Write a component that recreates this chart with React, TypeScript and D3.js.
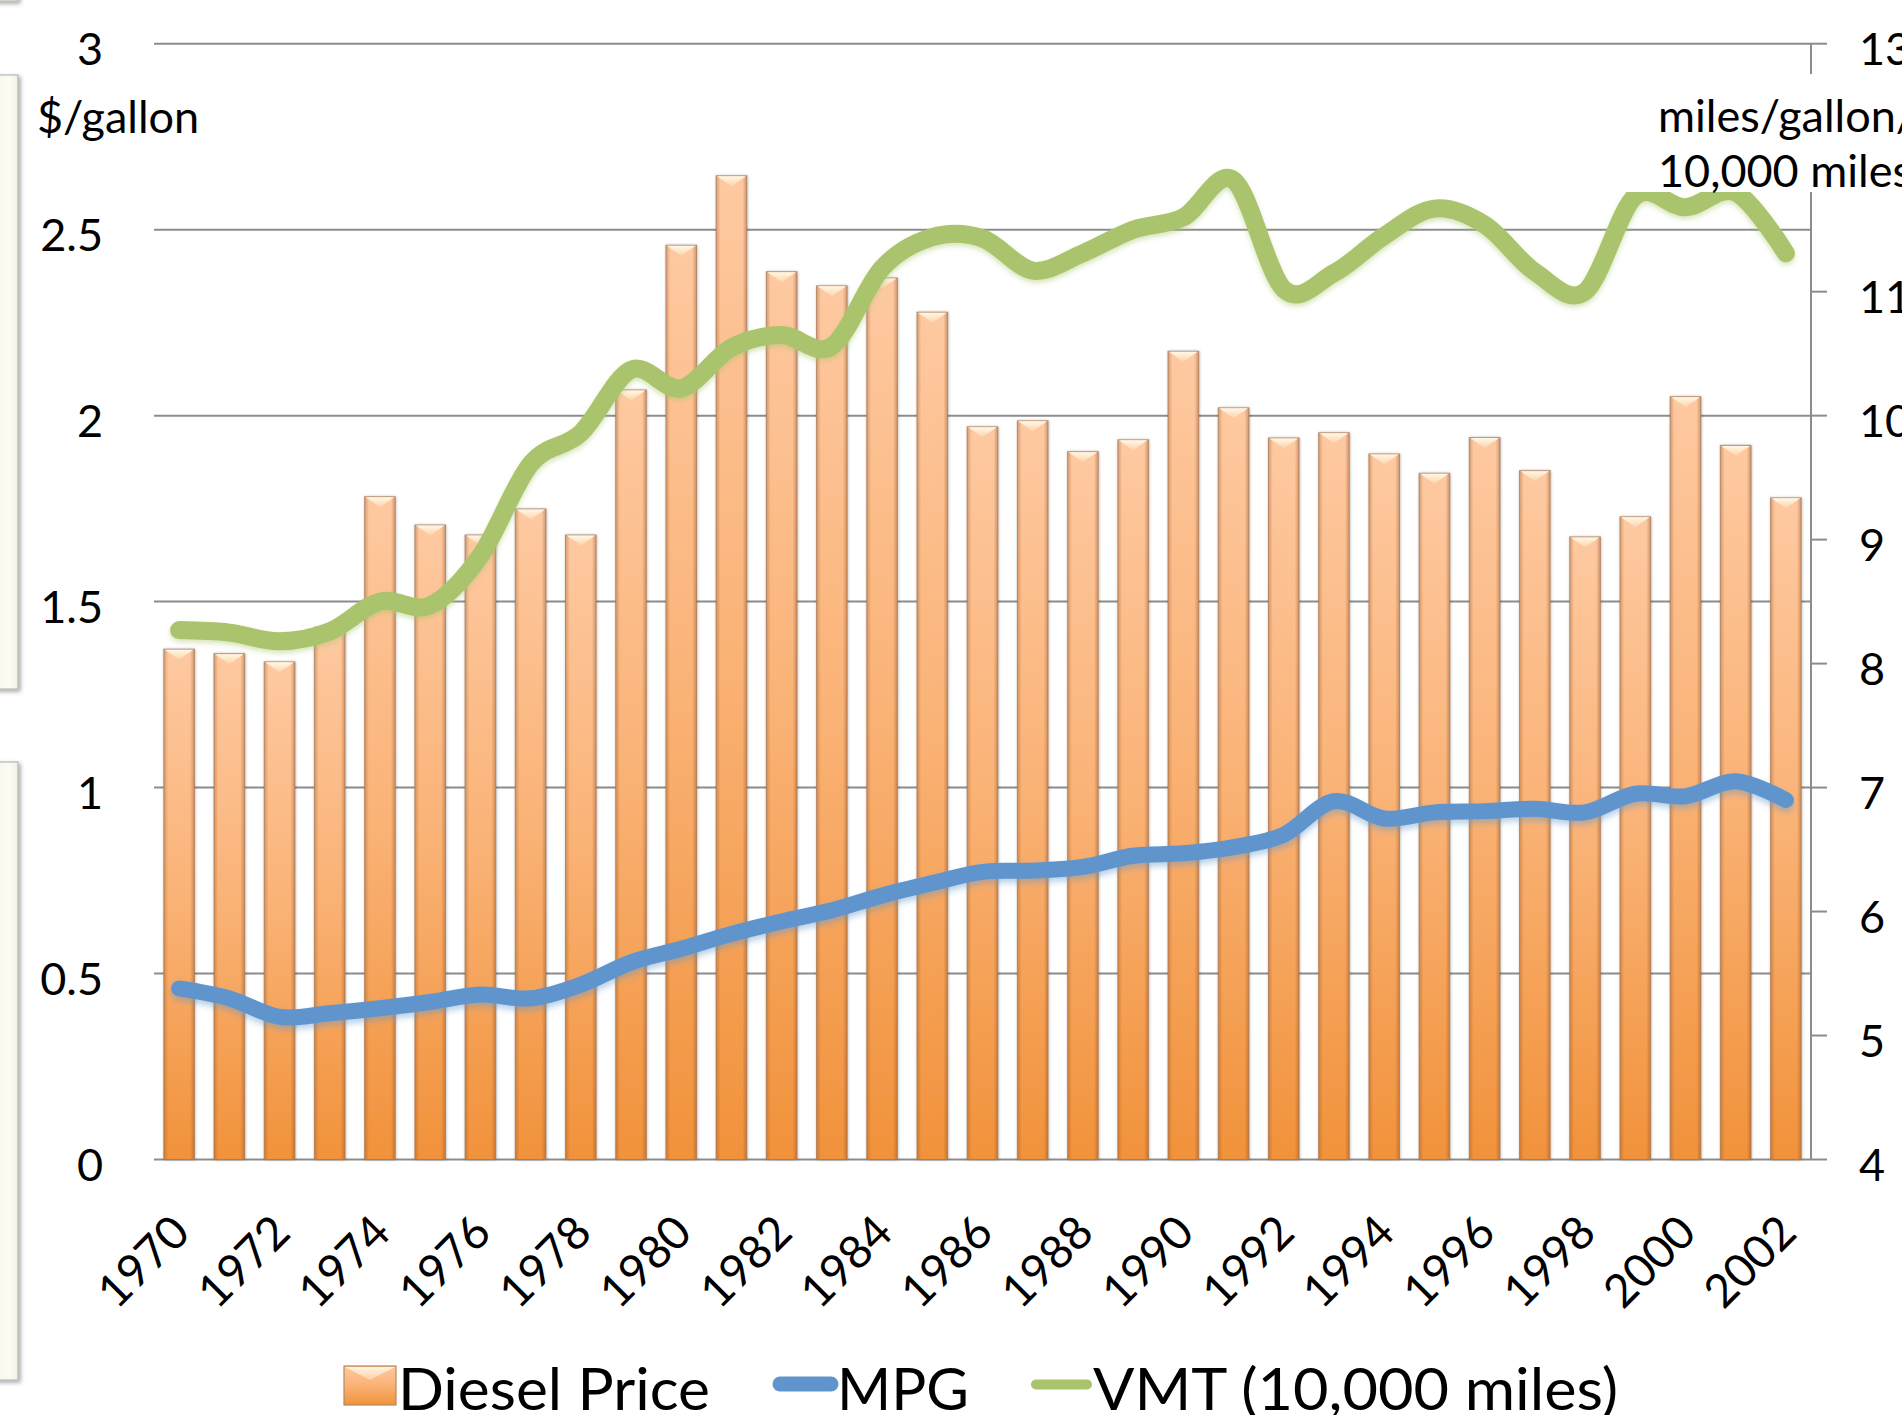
import React from "react";
import * as d3 from "d3";

const years = [
  1970, 1971, 1972, 1973, 1974, 1975, 1976, 1977, 1978, 1979, 1980, 1981,
  1982, 1983, 1984, 1985, 1986, 1987, 1988, 1989, 1990, 1991, 1992, 1993,
  1994, 1995, 1996, 1997, 1998, 1999, 2000, 2001, 2002,
];
const dieselPrice = [
  1.372, 1.36, 1.338, 1.431, 1.782, 1.706, 1.679, 1.749, 1.679, 2.069, 2.458,
  2.645, 2.387, 2.349, 2.37, 2.278, 1.97, 1.986, 1.903, 1.935, 2.173, 2.021,
  1.94, 1.954, 1.897, 1.845, 1.941, 1.852, 1.674, 1.728, 2.051, 1.92, 1.779,
];
const mpg = [
  5.38, 5.3, 5.15, 5.18, 5.22, 5.27, 5.33, 5.3, 5.41, 5.59, 5.7, 5.82, 5.92,
  6.01, 6.13, 6.23, 6.32, 6.33, 6.36, 6.45, 6.47, 6.52, 6.62, 6.89, 6.75, 6.8,
  6.81, 6.83, 6.8, 6.95, 6.93, 7.05, 6.9,
];
const vmt = [
  8.27, 8.25, 8.18, 8.26, 8.5, 8.47, 8.87, 9.61, 9.86, 10.37, 10.22, 10.55,
  10.65, 10.56, 11.19, 11.44, 11.43, 11.17, 11.31, 11.5, 11.6, 11.9, 11.02,
  11.15, 11.45, 11.67, 11.54, 11.16, 11.0, 11.77, 11.68, 11.8, 11.31,
];
const xTickLabels = [
  "1970", "1972", "1974", "1976", "1978", "1980", "1982", "1984", "1986",
  "1988", "1990", "1992", "1994", "1996", "1998", "2000", "2002",
];
const leftTicks = [0, 0.5, 1, 1.5, 2, 2.5, 3];
const rightTicks = [4, 5, 6, 7, 8, 9, 10, 11, 12, 13];
// the "12" label sits under the axis-title box in the reference and is not visible
const hiddenRightLabels = [12];
const legendLabels = ["Diesel Price", "MPG", "VMT (10,000 miles)"];

const W = 1902;
const H = 1415;
const X0 = 154;
const X1 = 1811;
const YB = 1159.5;
const YT = 43.7;
const FONT = "Lato, 'Open Sans', sans-serif";

export default function App() {
  const x = d3
    .scaleBand<string>()
    .domain(years.map(String))
    .range([X0, X1])
    .paddingInner(0.39)
    .paddingOuter(0.195);
  const bw = x.bandwidth();
  const cx = (i: number) => (x(String(years[i])) as number) + bw / 2;
  const yL = d3.scaleLinear().domain([0, 3]).range([YB, YT]);
  const yR = d3.scaleLinear().domain([4, 13]).range([YB, YT]);

  const line = (vals: number[]) =>
    d3
      .line<number>()
      .x((_, i) => cx(i))
      .y((v) => yR(v))
      .curve(d3.curveCardinal.tension(0))(vals) as string;

  return (
    <svg
      width={W}
      height={H}
      viewBox={`0 0 ${W} ${H}`}
      style={{ position: "absolute", left: 0, top: 0, background: "#fff" }}
      fontFamily={FONT}
    >
      <defs>
        <linearGradient id="barV" x1="0" y1="0" x2="0" y2="1">
          <stop offset="0" stopColor="#fec9a1" />
          <stop offset="0.5" stopColor="#fab275" />
          <stop offset="1" stopColor="#f1923b" />
        </linearGradient>
        <linearGradient id="barH" x1="0" y1="0" x2="1" y2="0">
          <stop offset="0" stopColor="#8a4a1a" stopOpacity="0.35" />
          <stop offset="0.14" stopColor="#8a4a1a" stopOpacity="0" />
          <stop offset="0.86" stopColor="#8a4a1a" stopOpacity="0" />
          <stop offset="1" stopColor="#8a4a1a" stopOpacity="0.4" />
        </linearGradient>
        <linearGradient id="bevel" x1="0" y1="0" x2="0" y2="1">
          <stop offset="0" stopColor="#fff8e6" />
          <stop offset="1" stopColor="#fdd3ab" />
        </linearGradient>
        <linearGradient id="cream" x1="0" y1="0" x2="1" y2="0">
          <stop offset="0" stopColor="#f8f5e6" />
          <stop offset="0.7" stopColor="#fdfcf4" />
          <stop offset="1" stopColor="#f3f0e0" />
        </linearGradient>
        <filter id="barShadow" x="-30%" y="-5%" width="160%" height="110%">
          <feDropShadow dx="0.5" dy="0" stdDeviation="1.5" floodColor="#000" floodOpacity="0.35" />
        </filter>
        <filter id="boxShadow" x="-50%" y="-10%" width="200%" height="120%">
          <feDropShadow dx="2" dy="2" stdDeviation="2" floodColor="#000" floodOpacity="0.35" />
        </filter>
        <filter id="blueGlow" x="-5%" y="-20%" width="110%" height="140%">
          <feDropShadow dx="0" dy="4" stdDeviation="3" floodColor="#5f95cc" floodOpacity="0.45" />
        </filter>
        <filter id="greenGlow" x="-5%" y="-20%" width="110%" height="140%">
          <feDropShadow dx="0" dy="3" stdDeviation="2.5" floodColor="#a9c46c" floodOpacity="0.45" />
        </filter>
      </defs>

      {/* slide decorations on the left edge */}
      <g filter="url(#boxShadow)">
        <rect x={-10} y={-100} width={28} height={101} fill="url(#cream)" stroke="#b8b8b0" strokeWidth={1.2} />
        <rect x={-10} y={75} width={28} height={614} fill="url(#cream)" stroke="#b8b8b0" strokeWidth={1.2} />
        <rect x={-10} y={762} width={28} height={618} fill="url(#cream)" stroke="#b8b8b0" strokeWidth={1.2} />
      </g>

      {/* gridlines */}
      {leftTicks.map((t) => (
        <line key={"g" + t} x1={X0} x2={X1} y1={yL(t)} y2={yL(t)} stroke="#8c8c8c" strokeWidth={2} />
      ))}

      {/* bars */}
      {dieselPrice.map((v, i) => {
        const bx = x(String(years[i])) as number;
        const by = yL(v);
        const bh = YB - by;
        return (
          <g key={"b" + i}>
            <rect x={bx} y={by} width={bw} height={bh} fill="url(#barV)" filter="url(#barShadow)" />
            <rect x={bx} y={by} width={bw} height={bh} fill="url(#barH)" stroke="#a57552" strokeOpacity={0.7} strokeWidth={1} />
            <polygon
              points={`${bx + 1},${by + 0.5} ${bx + bw - 1},${by + 0.5} ${bx + bw / 2},${by + bw * 0.34}`}
              fill="url(#bevel)"
            />
          </g>
        );
      })}

      {/* lines */}
      <path d={line(mpg)} fill="none" stroke="#5f95cc" strokeWidth={16} strokeLinecap="round" strokeLinejoin="round" filter="url(#blueGlow)" />
      <path d={line(vmt)} fill="none" stroke="#a9c46c" strokeWidth={18} strokeLinecap="round" strokeLinejoin="round" filter="url(#greenGlow)" />

      {/* right axis */}
      <line x1={X1} x2={X1} y1={YT} y2={YB} stroke="#8c8c8c" strokeWidth={2} />
      {rightTicks.map((t) => (
        <g key={"r" + t}>
          <line x1={X1} x2={X1 + 16} y1={yR(t)} y2={yR(t)} stroke="#8c8c8c" strokeWidth={2} />
          {hiddenRightLabels.indexOf(t) < 0 && (
            <text x={1859} y={yR(t) + 21.5} fontSize={45} fill="#000">
              {String(t)}
            </text>
          )}
        </g>
      ))}

      {/* right axis title box */}
      <rect x={1626} y={74} width={280} height={118} fill="#fff" />
      <text x={1658} y={132} fontSize={45} fill="#000">miles/gallon/</text>
      <text x={1658} y={187} fontSize={45} fill="#000">10,000 miles</text>

      {/* left axis */}
      {leftTicks.map((t) => (
        <text key={"l" + t} x={103} y={yL(t) + 21} fontSize={45} textAnchor="end" fill="#000">
          {String(t)}
        </text>
      ))}
      <text x={37} y={133} fontSize={45} fill="#000">$/gallon</text>

      {/* x labels */}
      {xTickLabels.map((lab) => {
        const px = (x(lab) as number) + bw / 2 + 13;
        const py = 1235;
        return (
          <text key={"x" + lab} x={0} y={0} fontSize={46} textAnchor="end" transform={`translate(${px},${py}) rotate(-45)`} fill="#000">
            {lab}
          </text>
        );
      })}

      {/* legend */}
      <g>
        <rect x={344} y={1366} width={52} height={39} fill="url(#barV)" stroke="#b8875c" strokeWidth={1.2} />
        <polygon points={`345,1367 395,1367 370,1380`} fill="url(#bevel)" opacity={0.9} />
        <text x={398} y={1410} fontSize={58} textLength={312} lengthAdjust="spacingAndGlyphs" fill="#000">
          {legendLabels[0]}
        </text>
        <line x1={780} x2={831} y1={1384} y2={1384} stroke="#5f95cc" strokeWidth={15} strokeLinecap="round" />
        <text x={837} y={1410} fontSize={58} textLength={132} lengthAdjust="spacingAndGlyphs" fill="#000">
          {legendLabels[1]}
        </text>
        <line x1={1036} x2={1087} y1={1384.5} y2={1384.5} stroke="#a9c46c" strokeWidth={10} strokeLinecap="round" />
        <text x={1093} y={1410} fontSize={58} textLength={525} lengthAdjust="spacingAndGlyphs" fill="#000">
          {legendLabels[2]}
        </text>
      </g>
    </svg>
  );
}
